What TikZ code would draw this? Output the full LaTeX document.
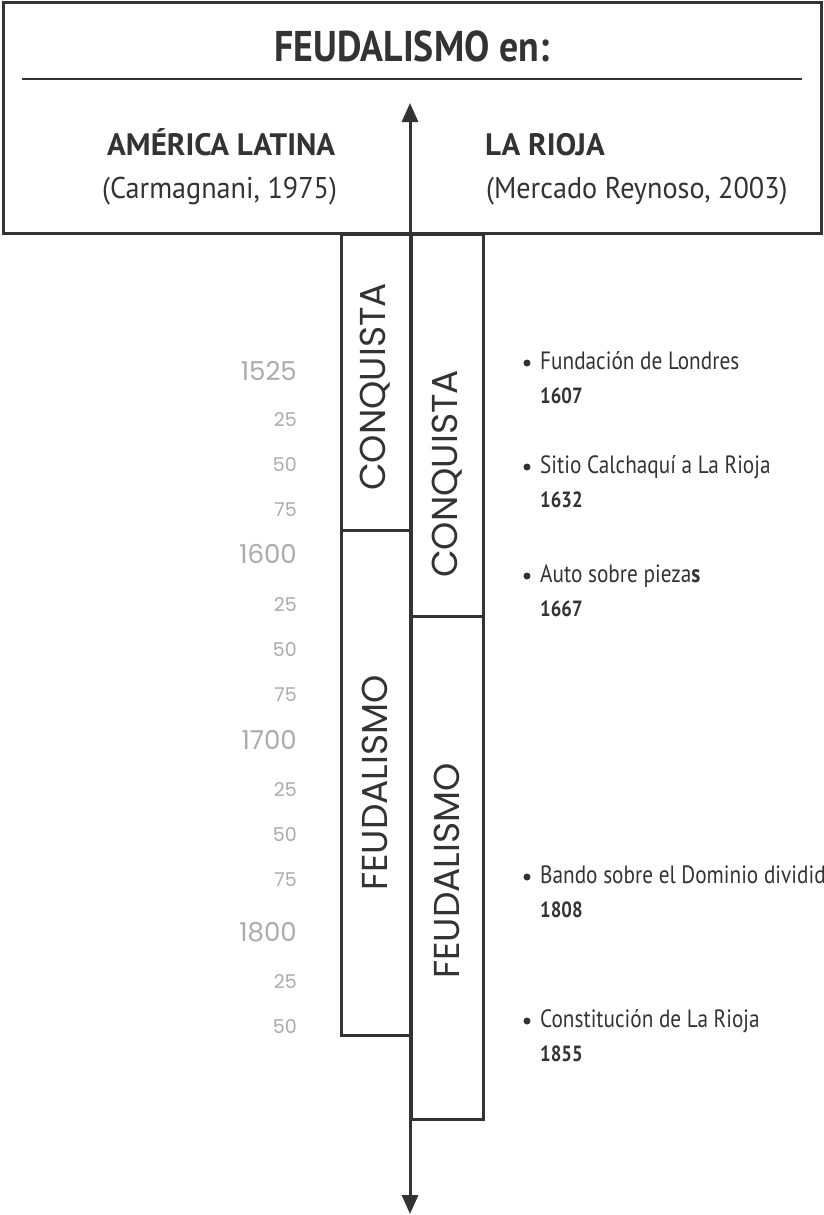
\documentclass[tikz,border=0pt]{standalone}
\usepackage{fontspec}
\setmainfont{PT Sans}
\newfontfamily\evfont[FakeStretch=0.85]{PT Sans}
\newfontfamily\titlefont[FakeStretch=0.88]{PT Sans}
\newfontfamily\citefont[FakeStretch=0.94]{PT Sans}
\newfontfamily\geofont{Poppins}
\usetikzlibrary{arrows.meta}
\definecolor{ink}{HTML}{333333}
\definecolor{yeargray}{HTML}{ABABAB}
\begin{document}
\begin{tikzpicture}[x=1pt,y=-1pt,
  frame/.style={draw=ink, line width=3pt, inner sep=0pt, anchor=north west},
  period/.style={draw=ink, line width=3pt, fill=white, inner sep=0pt, anchor=north west},
  vlabel/.style={rotate=90, font=\geofont\fontsize{36}{36}\selectfont, text=ink, inner sep=0pt},
  bigyear/.style={anchor=east, font=\geofont\fontsize{26}{26}\selectfont, text=yeargray, inner sep=0pt},
  smallyear/.style={anchor=east, font=\geofont\fontsize{19}{19}\selectfont, text=yeargray, inner sep=0pt},
  event/.style={anchor=base west, font=\evfont\fontsize{25}{25}\selectfont, text=ink, inner sep=0pt},
  evyear/.style={anchor=base west, font=\evfont\bfseries\fontsize{22}{22}\selectfont, text=ink, inner sep=0pt},
  bullet/.style={circle, fill=ink, inner sep=0pt, minimum size=7pt},
  head/.style={anchor=base west, font=\bfseries\fontsize{31}{31}\selectfont, text=ink, inner sep=0pt},
  cite/.style={anchor=base west, font=\citefont\fontsize{30}{30}\selectfont, text=ink, inner sep=0pt},
  axis/.style={draw=ink, line width=3pt, {Triangle[width=16pt,length=19pt]}-{Triangle[width=16pt,length=19pt]}},
  ]
\useasboundingbox (0,0) rectangle (823,1215);
\clip (0,0) rectangle (823,1215);
\fill[white] (0,0) rectangle (823,1215);

% header
\node[frame, minimum width=818pt, minimum height=230.5pt] (header) at (1.5,1.5) {};
\node[anchor=base, font=\titlefont\bfseries\fontsize{43}{43}\selectfont, text=ink, inner sep=0pt] (title) at (412,62) {FEUDALISMO en:};
\coordinate (ruleL) at (22,79);
\coordinate (ruleR) at (802,79);
\draw[ink, line width=2.2pt] (ruleL) -- (ruleR);
\node[head] (amer) at (107,155) {AMÉRICA LATINA};
\node[cite] (carm) at (102,198) {(Carmagnani, 1975)};
\node[head] (rioja) at (485,155) {LA RIOJA};
\node[cite] (merc) at (486,198) {(Mercado Reynoso, 2003)};

% period boxes
\node[period, minimum width=70pt, minimum height=296pt] (cqA) at (340,233) {};
\node[period, minimum width=70pt, minimum height=505pt] (fdA) at (340,529) {};
\node[period, minimum width=72pt, minimum height=382pt] (cqB) at (410,233) {};
\node[period, minimum width=72pt, minimum height=503pt] (fdB) at (410,615) {};
\node[vlabel] (cqAt) at (375,387) {CONQUISTA};
\node[vlabel] (cqBt) at (447,474) {CONQUISTA};
\node[vlabel] (fdAt) at (375,783) {FEUDALISMO};
\node[vlabel] (fdBt) at (447,871) {FEUDALISMO};

% axis
\coordinate (axTop) at (410,103);
\coordinate (axBot) at (410,1214);
\draw[axis] (axTop) -- (axBot);

% years
\node[bigyear] (y1525) at (297,371) {1525};
\node[smallyear] (y1550) at (297,420) {25};
\node[smallyear] (y1575) at (297,465) {50};
\node[smallyear] (y1590) at (297,510) {75};
\node[bigyear] (y1600) at (297,554) {1600};
\node[smallyear] (y1625) at (297,605) {25};
\node[smallyear] (y1650) at (297,650) {50};
\node[smallyear] (y1675) at (297,695) {75};
\node[bigyear] (y1700) at (297,740) {1700};
\node[smallyear] (y1725) at (297,790) {25};
\node[smallyear] (y1750) at (297,835) {50};
\node[smallyear] (y1775) at (297,880) {75};
\node[bigyear] (y1800) at (297,932) {1800};
\node[smallyear] (y1825) at (297,982) {25};
\node[smallyear] (y1850) at (297,1027) {50};

% events
\node[bullet] (b1) at (527,363) {};
\node[event] (e1) at (540,369) {Fundación de Londres};
\node[evyear] (d1) at (540,403) {1607};
\node[bullet] (b2) at (527,467) {};
\node[event] (e2) at (540,473) {Sitio Calchaquí a La Rioja};
\node[evyear] (d2) at (540,507) {1632};
\node[bullet] (b3) at (527,576) {};
\node[event] (e3) at (540,582) {Auto sobre pieza\textbf{s}};
\node[evyear] (d3) at (540,616) {1667};
\node[bullet] (b4) at (527,877) {};
\node[event] (e4) at (540,883) {Bando sobre el Dominio dividido};
\node[evyear] (d4) at (540,917) {1808};
\node[bullet] (b5) at (527,1021) {};
\node[event] (e5) at (540,1027) {Constitución de La Rioja};
\node[evyear] (d5) at (540,1061) {1855};
\end{tikzpicture}
\end{document}
